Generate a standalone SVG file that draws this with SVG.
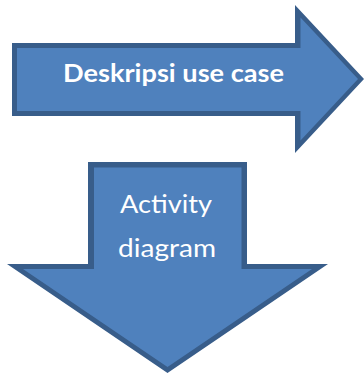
<svg xmlns="http://www.w3.org/2000/svg" width="364" height="376" viewBox="0 0 364 376">
<style>
.outer{fill:#385d8a}
.inner{fill:#4f81bd}
.lbl{fill:#ffffff;font-family:Lato,"Open Sans","Liberation Sans",sans-serif;font-size:25px;text-anchor:middle}
</style>
<rect width="364" height="376" fill="#ffffff"/>
<g id="deskripsi">
<polygon class="outer" points="12,43 295,43 295,5 364,79 295,153 295,116 12,116"/>
<polygon class="inner" points="17,48 300.5,48 300.5,17.5 358,79 300.5,140.5 300.5,111 17,111"/>
<text class="lbl" x="173.5" y="82.3" font-weight="bold" textLength="221" lengthAdjust="spacingAndGlyphs">Deskripsi use case</text>
</g>
<g id="activity">
<polygon class="outer" points="88,162 247,162 247,264 328,264 167.5,373 7,264 88,264"/>
<polygon class="inner" points="94,167.5 241.5,167.5 241.5,269 312,269 167.5,367 23,269 94,269"/>
<text class="lbl" x="166" y="213.3" textLength="92" lengthAdjust="spacingAndGlyphs">Activity</text>
<text class="lbl" x="167" y="256.5" textLength="98" lengthAdjust="spacingAndGlyphs">diagram</text>
</g>
<g id="connectors"/>
</svg>
